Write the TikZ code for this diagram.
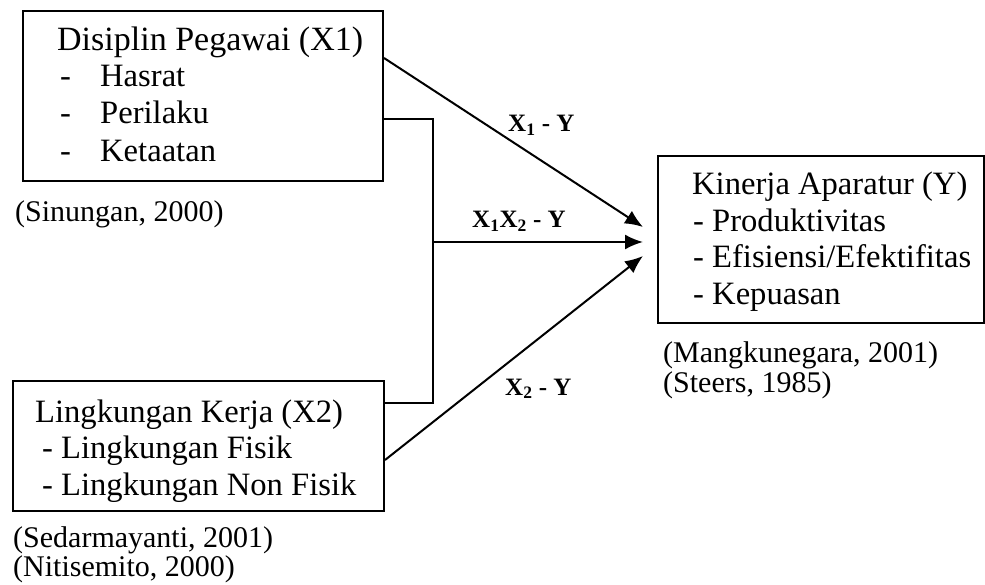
\documentclass[tikz,border=0pt]{standalone}
\usepackage{fontspec}
\setmainfont{Liberation Serif}
\usetikzlibrary{arrows.meta,calc}
\begin{document}
\begin{tikzpicture}[x=1pt,y=-1pt,
  box/.style={draw,line width=2pt,inner sep=0pt},
  txt/.style={anchor=base west,inner sep=0pt,font=\fontsize{32.6}{36}\selectfont},
  ref/.style={anchor=base west,inner sep=0pt,font=\fontsize{30}{30}\selectfont},
  lbl/.style={anchor=base west,inner sep=0pt,font=\fontsize{25}{26}\selectfont\bfseries},
  conn/.style={line width=2pt},
  arr/.style={line width=2pt,-{Latex[length=18pt,width=15pt]}}]
\useasboundingbox (0,0) rectangle (985,585);
% boxes
\node[box,minimum width=360pt,minimum height=170pt,anchor=north west] (x1) at (22,10) {};
\node[box,minimum width=371pt,minimum height=130pt,anchor=north west] (x2) at (12,380) {};
\node[box,minimum width=326pt,minimum height=167pt,anchor=north west] (y) at (657,155) {};
% X1 texts
\node[txt,font=\fontsize{34}{36}\selectfont] (t11) at (57,51) {Disiplin Pegawai (X1)};
\node[txt] (d12) at (60,87) {-};
\node[txt] (t12) at (100,87) {Hasrat};
\node[txt] (d13) at (60,124) {-};
\node[txt] (t13) at (100,124) {Perilaku};
\node[txt] (d14) at (60,162) {-};
\node[txt] (t14) at (100,162) {Ketaatan};
\node[ref] (r1) at (15,222) {(Sinungan, 2000)};
% X2 texts
\node[txt] (t21) at (35,422) {Lingkungan Kerja (X2)};
\node[txt] (t22) at (42,458) {- Lingkungan Fisik};
\node[txt] (t23) at (42,495) {- Lingkungan Non Fisik};
\node[ref] (r21) at (13,547) {(Sedarmayanti, 2001)};
\node[ref] (r22) at (13,576) {(Nitisemito, 2000)};
% Y texts
\node[txt] (ty1) at (692,195) {Kinerja Aparatur (Y)};
\node[txt] (ty2) at (693,232) {- Produktivitas};
\node[txt] (ty3) at (693,268) {- Efisiensi/Efektifitas};
\node[txt] (ty4) at (693,305) {- Kepuasan};
\node[ref] (ry1) at (663,362) {(Mangkunegara, 2001)};
\node[ref] (ry2) at (663,392) {(Steers, 1985)};
% connector points
\coordinate (a1) at ($(x1.north east)+(0,48)$);
\coordinate (b1) at ($(x1.north east)+(0,109)$);
\coordinate (b2) at ($(x2.north east)+(48,23)$);
\coordinate (b3) at ($(x2.north east)+(0,23)$);
\coordinate (a2) at ($(x2.north east)+(0,80)$);
\coordinate (jn) at ($(b2)+(0,-161)$);
\coordinate (tp1) at ($(y.north west)+(-14,72)$);
\coordinate (tp2) at ($(y.north west)+(-14,87)$);
\coordinate (tp3) at ($(y.north west)+(-14,101)$);
% connectors
\draw[arr] (a1) -- (tp1);
\draw[conn] (b1) -| (b2) -- (b3);
\draw[arr] (jn) -- (tp2);
\draw[arr] (a2) -- (tp3);
% labels
\node[lbl] (l1) at (508,132) {X\textsubscript{1} - Y};
\node[lbl] (l2) at (472,228) {X\textsubscript{1}X\textsubscript{2} - Y};
\node[lbl] (l3) at (505,395) {X\textsubscript{2} - Y};
\end{tikzpicture}
\end{document}
